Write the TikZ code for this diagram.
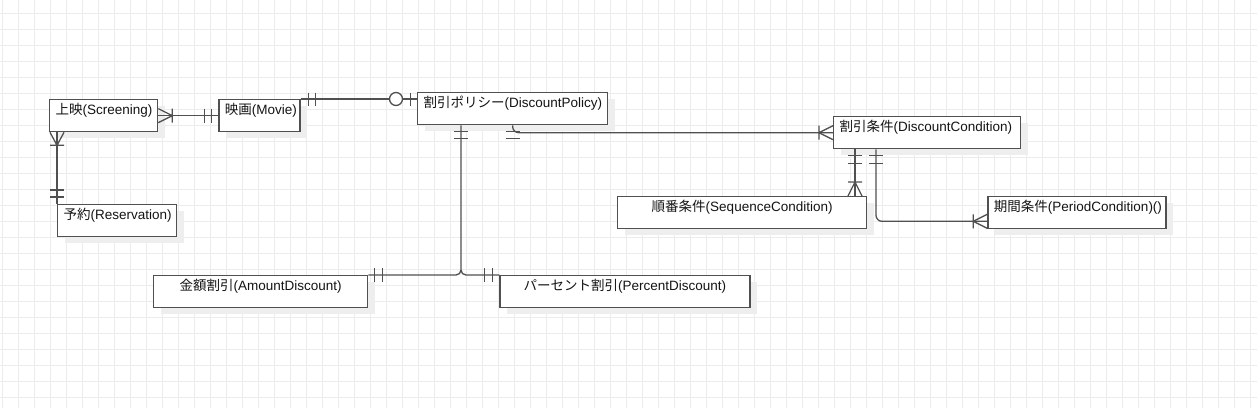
\documentclass[tikz,border=0pt]{standalone}
\usepackage{fontspec}
\setmainfont{Liberation Sans}
\newfontfamily\jp{Noto Sans CJK JP}
\usepackage{tikz}
\usepackage{xcolor}
\usetikzlibrary{positioning, calc, shadows}
\definecolor{cLine}{RGB}{80,80,80}
\definecolor{cText}{RGB}{20,20,20}
\definecolor{cGrid}{RGB}{236,236,236}
\definecolor{cShadow}{RGB}{238,238,238}
\tikzset{
	entity/.style ={rectangle, draw=cLine, line width=1.3pt, fill=white, text=cText, inner xsep=6pt, inner ysep=0pt, text height=15pt, text depth=17pt, align=left, drop shadow={shadow xshift=7pt, shadow yshift=-6pt, fill=cShadow, opacity=1}},
	entityc/.style={entity, align=center},
	rel/.style    ={draw=cLine, line width=1.3pt},
	% background grid of the editor
	gridline/.style={draw=cGrid, line width=1pt},
}

\begin{document}
\begin{tikzpicture}[x=1pt, y=1pt, font=\fontsize{13.5pt}{16pt}\selectfont]
	\useasboundingbox (0,0) rectangle (1257,-408);
	\foreach \gx in {2,18,...,1250} \draw[gridline] (\gx,0) -- (\gx,-408);
	\foreach \gy in {13,29,...,397} \draw[gridline] (0,-\gy) -- (1257,-\gy);
	% entities
	\node[entity, text width=96pt, anchor=north west] (scr) at (49,-99) {{\jp 上映}(Screening)};
	\node[entity, text width=69pt, right=60pt of scr] (mov) {{\jp 映画}(Movie)};
	\node[entity, text width=107pt, anchor=north west] (res) at (57,-204) {{\jp 予約}(Reservation)};
	\node[entity, text width=178pt, anchor=north west] (pol) at (417,-92) {{\jp 割引ポリシー}(DiscountPolicy)};
	\node[entity, text width=175pt, anchor=north west] (con) at (833,-116) {{\jp 割引条件}(DiscountCondition)};
	\node[entityc, text width=237pt, anchor=north west] (seq) at (617,-196) {{\jp 順番条件}(SequenceCondition)};
	\node[entity, text width=166pt, right=120pt of seq] (per) {{\jp 期間条件}(PeriodCondition)()};
	\node[entityc, text width=202pt, anchor=north west] (amt) at (153,-275) {{\jp 金額割引}(AmountDiscount)};
	\node[entityc, text width=238pt, right=131pt of amt] (pct) {{\jp パーセント割引}(PercentDiscount)};
	% Screening -- Movie
	\draw[rel] (scr) -- (mov);
	\draw[rel] ($(scr.east)+(0,7)$) -- ++(14,-7) -- ++(-14,-7) ($(scr.east)+(14,7)$) -- ++(0,-14);
	\draw[rel] ($(mov.west)+(-14,7)$) -- ++(0,-14) ($(mov.west)+(-6.5,7)$) -- ++(0,-14);
	% Screening -- Reservation
	\coordinate (s2) at (res.north west |- scr.south);
	\draw[rel] (s2) -- (res.north west);
	\draw[rel] ($(s2)+(-7,0)$) -- ++(7,-13) -- ++(7,13) ($(s2)+(-7,-13)$) -- ++(14,0);
	\draw[rel] ($(res.north west)+(-7,14)$) -- ++(14,0) ($(res.north west)+(-7,7)$) -- ++(14,0);
	% Movie -- DiscountPolicy
	\coordinate (p3) at (mov.north east -| pol.west);
	\draw[rel] (mov.north east) -- (p3);
	\draw[rel] ($(mov.north east)+(8,6.5)$) -- ++(0,-13) ($(mov.north east)+(15,6.5)$) -- ++(0,-13);
	\draw[rel, fill=white] ($(p3)+(-21,0)$) circle (6.5);
	\draw[rel] ($(p3)+(-6.5,6.5)$) -- ++(0,-13);
	% DiscountPolicy -- DiscountCondition
	\draw[rel, rounded corners=6pt] (pol.south) |- (con.west);
	\draw[rel] ($(pol.south)+(-7,-6.5)$) -- ++(14,0) ($(pol.south)+(-7,-13.5)$) -- ++(14,0);
	\draw[rel] ($(con.west)+(0,7)$) -- ++(-14,-7) -- ++(14,-7) ($(con.west)+(-14,7)$) -- ++(0,-14);
	% DiscountPolicy -- AmountDiscount / PercentDiscount
	\coordinate (pb) at ($(pol.south west)+(44,0)$);
	\draw[rel, rounded corners=5pt] (pb) |- (amt.north east) (pb) |- (pct.north west);
	\draw[rel] ($(pb)+(-7,-6.5)$) -- ++(14,0) ($(pb)+(-7,-13.5)$) -- ++(14,0);
	\draw[rel] ($(amt.north east)+(6.5,7)$) -- ++(0,-14) ($(amt.north east)+(14,7)$) -- ++(0,-14);
	\draw[rel] ($(pct.north west)+(-14.5,7)$) -- ++(0,-14) ($(pct.north west)+(-7,7)$) -- ++(0,-14);
	% DiscountCondition -- SequenceCondition
	\coordinate (cb1) at ($(con.south west)+(22,0)$);
	\coordinate (cs1) at (cb1 |- seq.north);
	\draw[rel] (cb1) -- (cs1);
	\draw[rel] ($(cb1)+(-7,-6.5)$) -- ++(14,0) ($(cb1)+(-7,-14)$) -- ++(14,0);
	\draw[rel] ($(cs1)+(-7,0)$) -- ++(7,14) -- ++(7,-14) ($(cs1)+(-7,14)$) -- ++(14,0);
	% DiscountCondition -- PeriodCondition
	\coordinate (cb2) at ($(con.south west)+(43,0)$);
	\coordinate (pin) at ($(per.south west)+(0,8)$);
	\draw[rel, rounded corners=6pt] (cb2) |- (pin);
	\draw[rel] ($(cb2)+(-7,-6.5)$) -- ++(14,0) ($(cb2)+(-7,-14)$) -- ++(14,0);
	\draw[rel] ($(pin)+(0,7)$) -- ++(-14,-7) -- ++(14,-7) ($(pin)+(-14,7)$) -- ++(0,-14);
\end{tikzpicture}
\end{document}
